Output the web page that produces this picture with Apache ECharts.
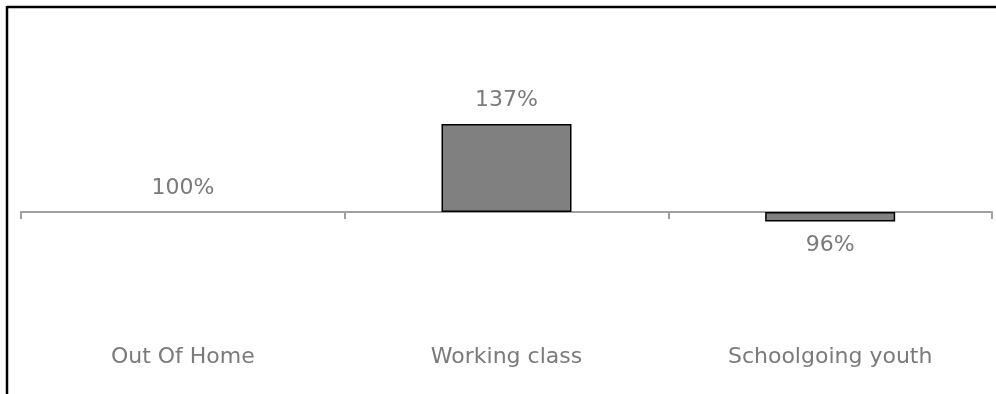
<!DOCTYPE html>
<html>
<head>
<meta charset="utf-8">
<script src="https://cdn.jsdelivr.net/npm/echarts@6/dist/echarts.min.js"></script>
<style>html,body{margin:0;padding:0;background:#fff;}#c{width:996px;height:394px;}</style>
</head>
<body>
<div id="c"></div>
<script>
var categories = ['Out Of Home', 'Working class', 'Schoolgoing youth'];
var values = [100, 137, 96];
var baseline = 100;

var chart = echarts.init(document.getElementById('c'), null, {renderer: 'canvas'});
var font = 'DejaVu Sans';
chart.setOption({
  backgroundColor: '#ffffff',
  animation: false,
  graphic: [
    {type: 'line', shape: {x1: 7, y1: 7, x2: 996, y2: 7}, style: {stroke: '#000', lineWidth: 2.5}},
    {type: 'line', shape: {x1: 7, y1: 6, x2: 7, y2: 394}, style: {stroke: '#000', lineWidth: 2.5}}
  ],
  grid: {left: 21, right: 4, top: 93, height: 238},
  xAxis: [
    {
      type: 'category', data: categories, position: 'bottom',
      axisLine: {show: true, onZero: true, lineStyle: {color: '#a0a0a0', width: 2}},
      axisTick: {show: true, length: 7, lineStyle: {color: '#a0a0a0', width: 2}},
      axisLabel: {show: false}
    },
    {
      type: 'category', data: categories, position: 'bottom',
      axisLine: {show: false, onZero: false}, axisTick: {show: false},
      axisLabel: {show: true, margin: 15, color: '#7a7a7a', fontFamily: font, fontSize: 22}
    }
  ],
  yAxis: {type: 'value', min: -50, max: 50, show: false, splitLine: {show: false}},
  series: [{
    type: 'bar', xAxisIndex: 0, barWidth: 130, z: 1,
    data: values.map(function (v) {
      return {
        value: v - baseline,
        itemStyle: {borderWidth: v === baseline ? 0 : 1.5},
        label: {position: v >= baseline ? 'top' : 'bottom'}
      };
    }),
    itemStyle: {color: '#808080', borderColor: '#000', borderWidth: 1.5},
    label: {
      show: true, distance: 13, color: '#7a7a7a', fontFamily: font, fontSize: 22,
      formatter: function (p) { return values[p.dataIndex] + '%'; }
    }
  }]
});
</script>
</body>
</html>
